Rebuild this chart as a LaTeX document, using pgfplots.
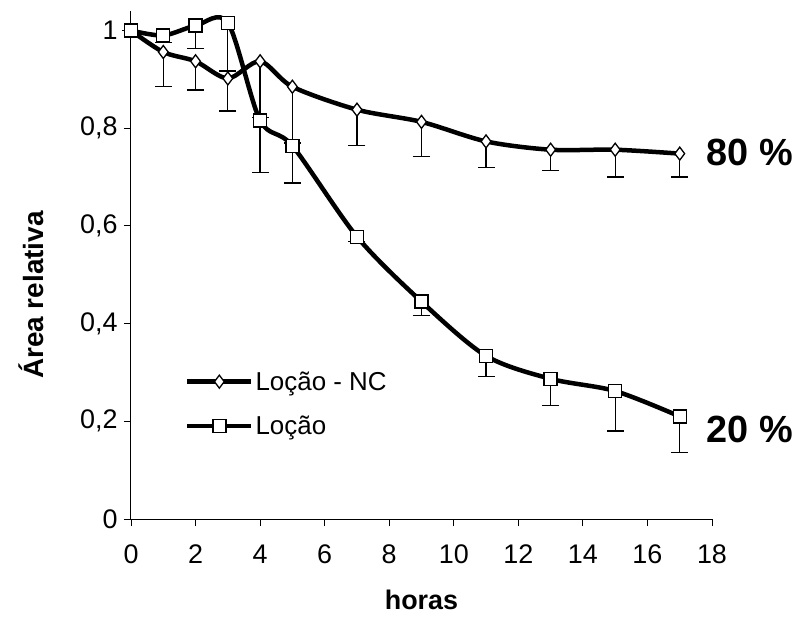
\documentclass[border=0pt]{standalone}
\usepackage{pgfplots}
\pgfplotsset{compat=1.18}
\usepackage{fontspec}
\setmainfont{Liberation Sans}
\pgfplotstableread{
x y e
0 1.000 0
1 0.956 0.070
2 0.937 0.059
3 0.902 0.067
4 0.937 0.115
5 0.885 0.115
7 0.838 0.073
9 0.813 0.071
11 0.773 0.053
13 0.756 0.042
15 0.756 0.056
17 0.748 0.048
}\nc
\pgfplotstableread{
x y e
0 1.000 0
1 0.990 0.015
2 1.010 0.047
3 1.016 0.099
4 0.816 0.107
5 0.764 0.076
7 0.578 0.010
9 0.445 0.029
11 0.334 0.042
13 0.287 0.055
15 0.262 0.082
17 0.210 0.074
}\loc
\begin{document}
\begin{tikzpicture}
\useasboundingbox (-131bp,-106bp) rectangle (671bp,519bp);
\begin{axis}[
  at={(0bp,0bp)}, anchor=south west,
  width=581bp, height=508bp, scale only axis,
  xmin=0, xmax=18, ymin=0, ymax=1.04,
  clip=false,
  axis x line*=bottom, axis y line*=left,
  axis line style={line width=1bp, black},
  tick align=outside,
  major tick length=7bp,
  tick style={line width=0.9bp, black},
  xtick={0,2,...,18},
  xticklabels={0,2,4,6,8,10,12,14,16,18},
  ytick={0,0.2,0.4,0.6,0.8,1},
  yticklabels={0,{0,2},{0,4},{0,6},{0,8},1},
  ticklabel style={font=\fontsize{27}{30}\selectfont},
  xticklabel style={yshift=-15bp},
  yticklabel style={xshift=-3bp},
  xlabel={\textbf{horas}},
  xlabel style={font=\fontsize{27}{30}\selectfont, at={(axis description cs:0.5,0)}, anchor=center, yshift=-81bp},
  ylabel={\textbf{Área relativa}},
  ylabel style={font=\fontsize{28}{30}\selectfont, at={(axis description cs:-0.172,0.441)}, anchor=center},
  legend style={at={(axis cs:1.67,0.236)}, anchor=west, draw=none, fill=none, inner sep=0pt,
    font=\fontsize{26}{30}\selectfont, row sep=20bp},
  legend cell align=left,
  legend image code/.code={\draw[mark repeat=2,mark phase=2,#1] plot coordinates {(0bp,0bp) (32bp,0bp) (64bp,0bp)};},
  error bars/y dir=minus,
  error bars/y explicit,
  error bars/error mark options={rotate=90, mark size=8.5bp, line width=1.3bp, black},
  error bars/error bar style={line width=1.3bp, black},
]
\addplot[black, line width=4.5bp, smooth, tension=0.5, mark=diamond*, mark size=6.5bp,
  mark options={fill=white, line width=1.3bp}]
  table[x=x, y=y, y error minus=e] {\nc};
\addlegendentry{Loção - NC}
\addplot[black, line width=4.5bp, smooth, tension=0.5, mark=square*, mark size=6.5bp,
  mark options={fill=white, line width=1.3bp}]
  table[x=x, y=y, y error minus=e] {\loc};
\addlegendentry{Loção}
\node[font=\bfseries\fontsize{38}{40}\selectfont] at (axis cs:19.18,0.751) {80 \%};
\node[font=\bfseries\fontsize{38}{40}\selectfont] at (axis cs:19.18,0.184) {20 \%};
\end{axis}
\end{tikzpicture}
\end{document}
